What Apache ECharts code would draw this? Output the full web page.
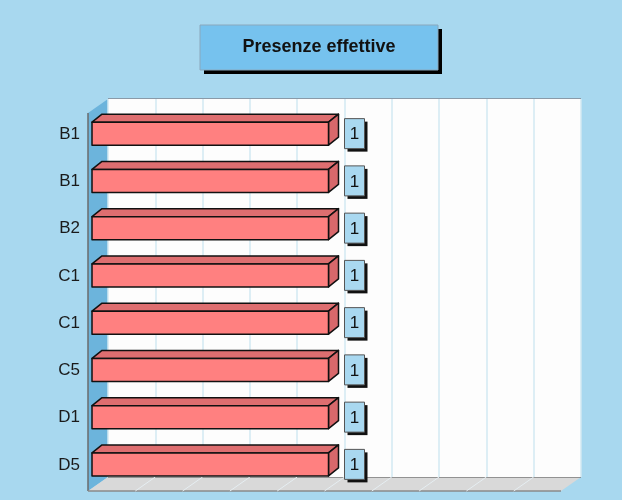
<!DOCTYPE html>
<html>
<head>
<meta charset="utf-8">
<script src="https://cdn.jsdelivr.net/npm/echarts@6/dist/echarts.min.js"></script>
<style>
  html, body { margin: 0; padding: 0; background: #a8d8ef; }
  #chart { width: 622px; height: 500px; }
</style>
</head>
<body>
<div id="chart"></div>
<script>
// dati
const categories = ['B1', 'B1', 'B2', 'C1', 'C1', 'C5', 'D1', 'D5'];
const values = [1, 1, 1, 1, 1, 1, 1, 1];
const titleText = 'Presenze effettive';

const FONT = '"Liberation Sans", Arial, sans-serif';
const chart = echarts.init(document.getElementById('chart'));

// larghezza del titolo per centrarlo nel riquadro
const ctx = document.createElement('canvas').getContext('2d');
ctx.font = 'bold 18px ' + FONT;
const titleW = ctx.measureText(titleText).width;
const boxX = 200, boxY = 25, boxW = 238, boxH = 45;

// pareti 3D (solo decorazione)
const wallL = 108, wallR = 581, wallT = 99, wallB = 477;
const depthX = 20, depthY = 14;
const deco = [
  { type: 'rect', z: -10, silent: true,
    shape: { x: boxX + 4, y: boxY + 4, width: boxW, height: boxH }, style: { fill: '#000' } },
  { type: 'rect', z: -10, silent: true,
    shape: { x: boxX, y: boxY, width: boxW, height: boxH },
    style: { fill: '#76c2ee', stroke: '#8aa8bc', lineWidth: 1 } },
  { // parete sinistra
    type: 'polygon', z: -10, silent: true,
    shape: { points: [[wallL - depthX, wallT + depthY], [wallL, wallT], [wallL, wallB], [wallL - depthX, wallB + depthY]] },
    style: { fill: '#6cb4dc' }
  },
  {
    type: 'line', z: -9, silent: true,
    shape: { x1: wallL - depthX, y1: wallT + depthY, x2: wallL - depthX, y2: wallB + depthY },
    style: { stroke: '#6b6b6b', lineWidth: 1.5 }
  },
  { // pavimento
    type: 'polygon', z: -10, silent: true,
    shape: { points: [[wallL - depthX, wallB + depthY], [wallL, wallB], [wallR, wallB], [wallR - depthX, wallB + depthY]] },
    style: { fill: '#d9d9d9' }
  },
  {
    type: 'line', z: -9, silent: true,
    shape: { x1: wallL - depthX, y1: wallB + depthY, x2: wallR - depthX, y2: wallB + depthY },
    style: { stroke: '#8a8a8a', lineWidth: 1.5 }
  },
  {
    type: 'line', z: -9, silent: true,
    shape: { x1: wallL, y1: wallB, x2: wallR, y2: wallB },
    style: { stroke: '#7a7a7a', lineWidth: 1.5 }
  },
  {
    type: 'line', z: -9, silent: true,
    shape: { x1: wallL, y1: wallT, x2: wallR, y2: wallT },
    style: { stroke: '#8a9aa8', lineWidth: 2 }
  }
];
for (let k = 1; k < 10; k++) {
  const gx = wallL + (wallR - wallL) * k / 10;
  deco.push({
    type: 'line', z: -9, silent: true,
    shape: { x1: gx, y1: wallB, x2: gx - depthX, y2: wallB + depthY },
    style: { stroke: '#e6eef2', lineWidth: 1 }
  });
}

function renderBar(params, api) {
  const idx = api.value(1);
  const p0 = api.coord([0, idx]);
  const p1 = api.coord([api.value(0), idx]);
  const x0 = p0[0] - 16, x1 = p1[0] - 16;
  const yc = p0[1] + 11;
  const h = 23, dx = 10, dy = 8;
  const yT = yc - h / 2, yB = yc + h / 2;
  const edge = { stroke: '#111', lineWidth: 1.5, lineJoin: 'round' };
  return {
    type: 'group',
    children: [
      { type: 'polygon', shape: { points: [[x0, yT], [x0 + dx, yT - dy], [x1 + dx, yT - dy], [x1, yT]] },
        style: Object.assign({ fill: '#de6e70' }, edge) },
      { type: 'polygon', shape: { points: [[x1, yT], [x1 + dx, yT - dy], [x1 + dx, yB - dy], [x1, yB]] },
        style: Object.assign({ fill: '#d8686b' }, edge) },
      { type: 'rect', shape: { x: x0, y: yT, width: x1 - x0, height: h },
        style: Object.assign({ fill: '#ff8080' }, edge) },
      // etichetta valore
      { type: 'rect', shape: { x: x1 + dx + 9, y: yc - 12, width: 20, height: 30 },
        style: { fill: '#111' } },
      { type: 'rect', shape: { x: x1 + dx + 6, y: yc - 15, width: 20, height: 30 },
        style: { fill: '#a9d8f0', stroke: '#555', lineWidth: 1 } },
      { type: 'text', style: { text: String(api.value(0)), x: x1 + dx + 16, y: yc + 1,
          align: 'center', verticalAlign: 'middle', fill: '#111',
          font: '17px ' + FONT } }
    ]
  };
}

chart.setOption({
  backgroundColor: '#a8d8ef',
  animation: false,
  title: {
    text: titleText,
    left: boxX + (boxW - titleW) / 2,
    top: boxY + boxH / 2 - 10,
    padding: 0,
    textStyle: {
      color: '#111',
      fontSize: 18,
      fontWeight: 'bold',
      lineHeight: 20,
      fontFamily: FONT
    }
  },
  graphic: deco,
  grid: {
    left: wallL,
    top: wallT,
    width: wallR - wallL,
    height: wallB - wallT,
    show: true,
    backgroundColor: '#fdfdfd',
    borderWidth: 0
  },
  xAxis: {
    type: 'value',
    min: 0,
    max: 2,
    interval: 0.2,
    axisLabel: { show: false },
    axisLine: { show: false },
    axisTick: { show: false },
    splitLine: { lineStyle: { color: '#d2e8f2', width: 1.5 } }
  },
  yAxis: {
    type: 'category',
    data: categories,
    inverse: true,
    axisLine: { show: false },
    axisTick: { show: false },
    axisLabel: {
      margin: 28,
      verticalAlign: 'top',
      lineHeight: 23,
      color: '#1a1a1a',
      fontSize: 17,
      fontFamily: FONT
    }
  },
  series: [{
    type: 'custom',
    renderItem: renderBar,
    data: values.map((v, i) => [v, i]),
    encode: { x: 0, y: 1 }
  }]
});
</script>
</body>
</html>
